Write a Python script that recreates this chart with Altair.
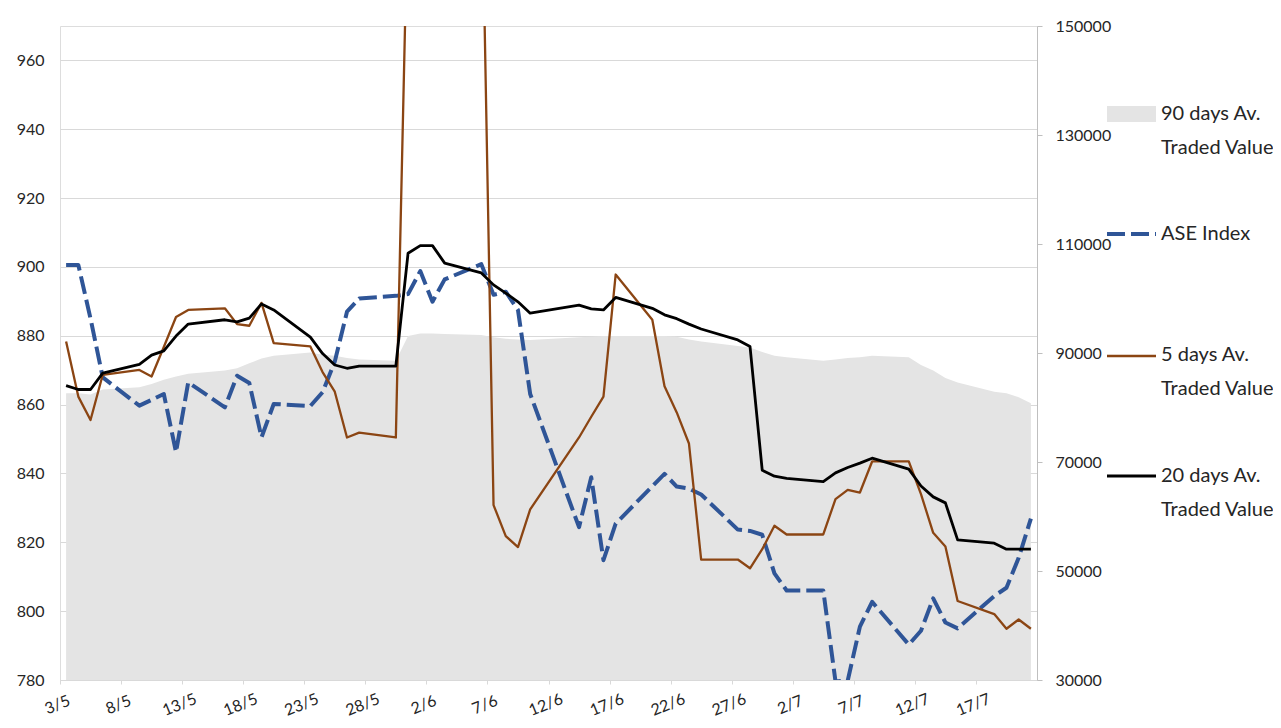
import altair as alt
import pandas as pd

# ---------------- data ----------------
dates = [
    "2022-05-03", "2022-05-04", "2022-05-05", "2022-05-06",
    "2022-05-09", "2022-05-10", "2022-05-11", "2022-05-12", "2022-05-13",
    "2022-05-16", "2022-05-17", "2022-05-18", "2022-05-19", "2022-05-20",
    "2022-05-23", "2022-05-24", "2022-05-25", "2022-05-26", "2022-05-27",
    "2022-05-30", "2022-05-31", "2022-06-01", "2022-06-02", "2022-06-03",
    "2022-06-06", "2022-06-07", "2022-06-08", "2022-06-09", "2022-06-10",
    "2022-06-14", "2022-06-15", "2022-06-16", "2022-06-17",
    "2022-06-20", "2022-06-21", "2022-06-22", "2022-06-23", "2022-06-24",
    "2022-06-27", "2022-06-28", "2022-06-29", "2022-06-30", "2022-07-01",
    "2022-07-04", "2022-07-05", "2022-07-06", "2022-07-07", "2022-07-08",
    "2022-07-11", "2022-07-12", "2022-07-13", "2022-07-14", "2022-07-15",
    "2022-07-18", "2022-07-19", "2022-07-20", "2022-07-21",
]

ase_index = [
    900.6, 900.6, 885.0, 867.9,
    859.7, 861.4, 863.1, 846.2, 866.5,
    859.2, 868.4, 866.3, 850.5, 860.2,
    859.6, 863.6, 872.5, 887.0, 890.8,
    891.6, 892.1, 898.8, 889.9, 896.4,
    900.8, 891.9, 892.8, 887.5, 863.1,
    824.4, 838.9, 814.8, 825.4,
    836.3, 839.9, 836.2, 835.6, 833.9,
    823.7, 823.3, 822.2, 811.0, 806.0,
    806.0, 779.6, 779.8, 795.5, 802.7,
    790.3, 794.3, 803.7, 796.7, 795.0,
    804.4, 806.8, 815.5, 826.9,
]

tv_5d = [
    92100, 82000, 77700, 86000,
    86900, 85700, 91100, 96600, 97900,
    98200, 95300, 95000, 99200, 91800,
    91200, 86500, 82900, 74500, 75400,
    74500, 175000, 178000, 181000, 184000,
    183000, 62100, 56400, 54400, 61300,
    74500, 78300, 82000, 104400,
    96100, 83900, 79100, 73400, 52100,
    52100, 50500, 54000, 58300, 56700,
    56700, 63200, 64900, 64400, 70100,
    70100, 64100, 57000, 54500, 44500,
    42100, 39400, 41100, 39400,
]

tv_20d = [
    84000, 83300, 83300, 86300,
    87900, 89600, 90400, 93100, 95300,
    96100, 95700, 96400, 99000, 97900,
    92900, 89900, 87800, 87200, 87600,
    87600, 108300, 109700, 109700, 106500,
    104700, 102500, 101000, 99400, 97300,
    98800, 98100, 97900, 100200,
    98200, 97000, 96300, 95300, 94400,
    92400, 91200, 68500, 67400, 67000,
    66400, 68000, 69000, 69800, 70700,
    68700, 65600, 63600, 62500, 55700,
    55100, 54000, 54000, 54000,
]

tv_90d = [
    82600, 82600, 82400, 83300,
    83700, 84300, 85100, 85700, 86200,
    86800, 87200, 88100, 89000, 89500,
    90100, 89700, 89500, 89100, 88800,
    88600, 93100, 93600, 93600, 93500,
    93300, 92900, 92600, 92500, 92400,
    92900, 93000, 93100, 93100,
    93100, 93100, 93000, 92500, 92100,
    91300, 91000, 90200, 89500, 89200,
    88600, 88800, 89100, 89200, 89500,
    89200, 87800, 86800, 85400, 84600,
    82900, 82600, 81900, 80800,
]

left_ticks = [780, 800, 820, 840, 860, 880, 900, 920, 940, 960]
right_ticks = [30000, 50000, 70000, 90000, 110000, 130000, 150000]
# x labels every 5 calendar days: (month, day)
x_tick_days = [(5, 3), (5, 8), (5, 13), (5, 18), (5, 23), (5, 28), (6, 2), (6, 7),
               (6, 12), (6, 17), (6, 22), (6, 27), (7, 2), (7, 7), (7, 12), (7, 17)]

legend_labels = ["90 days Av.\nTraded Value", "ASE Index",
                 "5 days Av.\nTraded Value", "20 days Av.\nTraded Value"]

# ---------------- styles ----------------
FONT = "Lato"
TXT = "#262626"
GRID = "#D9D9D9"
AREA_C = "#E4E4E4"
BLUE = "#2F5597"
BROWN = "#8B4513"
BLACK = "#000000"
DASH = [18, 6]

df = pd.DataFrame({
    "date": [d + "T12:00:00" for d in dates],
    "ase": ase_index,
    "tv5": tv_5d,
    "tv20": tv_20d,
    "tv90": tv_90d,
})

x_enc = alt.X(
    "date:T",
    scale=alt.Scale(domain=[alt.DateTime(year=2022, month=5, date=3),
                            alt.DateTime(year=2022, month=7, date=22)]),
    axis=alt.Axis(
        values=[alt.DateTime(year=2022, month=m, date=d) for m, d in x_tick_days],
        format="%-d/%-m", labelAngle=-22, labelAlign="center", labelBaseline="top",
        labelPadding=13, labelOffset=-6, labelFlush=False, labelOverlap=False,
        tickSize=4, tickColor=GRID, domainColor=GRID, grid=False, title=None,
        labelFont=FONT, labelFontSize=16, labelColor=TXT,
    ),
)

right_scale = alt.Scale(domain=[30000, 150000], nice=False, zero=False)
left_scale = alt.Scale(domain=[780, 970], nice=False, zero=False)

base = alt.Chart(df)

area = base.mark_area(color=AREA_C, clip=True).encode(
    x=x_enc,
    y=alt.Y("tv90:Q", scale=right_scale, axis=alt.Axis(
        orient="right", values=right_ticks, format="d", grid=False,
        domain=True, domainColor="#BFBFBF", ticks=True, tickColor="#BFBFBF",
        tickSize=5, labelPadding=13, labelFont=FONT, labelFontSize=16,
        labelColor=TXT, title=None)),
    y2=alt.datum(30000),
)

ase = base.mark_line(color=BLUE, strokeWidth=4, strokeDash=DASH, clip=True,
                     strokeJoin="round").encode(
    x=x_enc,
    y=alt.Y("ase:Q", scale=left_scale, axis=alt.Axis(
        orient="left", values=left_ticks, grid=True, gridColor=GRID, gridWidth=1,
        domain=False, ticks=False, labelPadding=16, labelFont=FONT,
        labelFontSize=16, labelColor=TXT, title=None)),
)

line5 = base.mark_line(color=BROWN, strokeWidth=2.3, clip=True, strokeJoin="round").encode(
    x=x_enc, y=alt.Y("tv5:Q", scale=right_scale, axis=None))

line20 = base.mark_line(color=BLACK, strokeWidth=2.8, clip=True, strokeJoin="round").encode(
    x=x_enc, y=alt.Y("tv20:Q", scale=right_scale, axis=None))

# ---------------- manual legend ----------------
one = pd.DataFrame({"k": [0]})
SW_X0, SW_X1, TX = 1047, 1096, 1101

leg_area = alt.Chart(one).mark_rect(color=AREA_C).encode(
    x=alt.value(SW_X0), x2=alt.value(SW_X1), y=alt.value(80), y2=alt.value(96))
leg_ase = alt.Chart(one).mark_rule(color=BLUE, strokeWidth=4, strokeDash=DASH).encode(
    x=alt.value(SW_X0), x2=alt.value(SW_X1), y=alt.value(208))
leg_5 = alt.Chart(one).mark_rule(color=BROWN, strokeWidth=2.3).encode(
    x=alt.value(SW_X0), x2=alt.value(SW_X1), y=alt.value(330))
leg_20 = alt.Chart(one).mark_rule(color=BLACK, strokeWidth=2.8).encode(
    x=alt.value(SW_X0), x2=alt.value(SW_X1), y=alt.value(450))

def leg_text(label, y):
    return alt.Chart(one).mark_text(
        align="left", baseline="middle", font=FONT, fontSize=20, color=TXT,
        lineBreak="\n", lineHeight=34,
    ).encode(x=alt.value(TX), y=alt.value(y), text=alt.value(label))

texts = [leg_text(legend_labels[0], 88), leg_text(legend_labels[1], 208),
         leg_text(legend_labels[2], 329), leg_text(legend_labels[3], 450)]

chart = alt.layer(
    area, ase, line5, line20, leg_area, leg_ase, leg_5, leg_20, *texts
).resolve_scale(y="independent").properties(
    width=977, height=654,
    autosize=alt.AutoSizeParams(type="none"),
    padding={"left": 52, "top": 18, "right": 236, "bottom": 40},
).configure_view(strokeWidth=0).configure(font=FONT)

chart.save("out.html", embed_options={"renderer": "svg", "actions": False})
